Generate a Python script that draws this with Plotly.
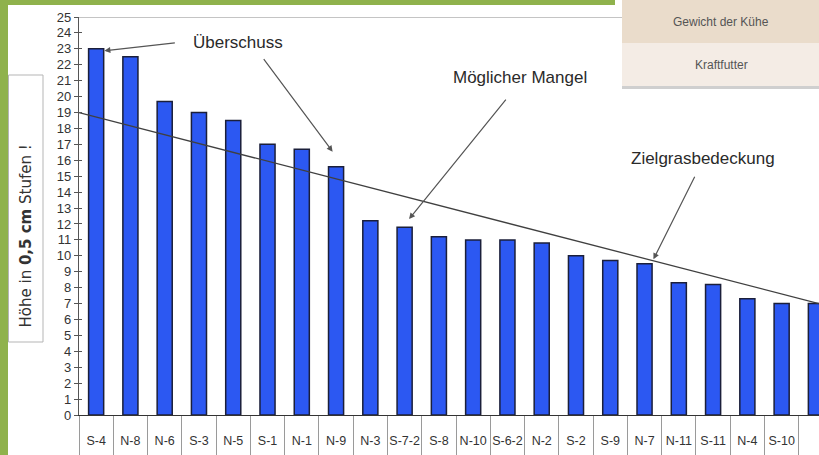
import plotly.graph_objects as go

# Weideflächen (Koppeln) sortiert nach Grashöhe
koppeln = ["S-4", "N-8", "N-6", "S-3", "N-5", "S-1", "N-1", "N-9", "N-3", "S-7-2", "S-8",
           "N-10", "S-6-2", "N-2", "S-2", "S-9", "N-7", "N-11", "S-11", "N-4", "S-10", "S-6"]
grashoehe = [23.0, 22.5, 19.7, 19.0, 18.5, 17.0, 16.7, 15.6, 12.2, 11.8, 11.2,
             11.0, 11.0, 10.8, 10.0, 9.7, 9.5, 8.3, 8.2, 7.3, 7.0, 7.0]

# Zielgrasbedeckung: Gerade vom linken zum rechten Rand
ziel_x = [-0.5, 21.09]
ziel_y = [19.0, 7.0]

y_ticks = list(range(0, 26))

W, H = 819, 455
ML, MR, MT, MB = 79, 0, 17, 40
PW, PH = W - ML - MR, H - MT - MB


def px(x):
    return (x - ML) / PW


def py(y):
    return (H - MB - y) / PH


idx = list(range(len(koppeln)))

fig = go.Figure()
fig.add_trace(go.Bar(
    x=idx, y=grashoehe, width=0.44,
    marker=dict(color="#2c58f2", line=dict(color="#1b1f3a", width=1.5)),
    hoverinfo="x+y", showlegend=False,
))
fig.add_trace(go.Scatter(
    x=ziel_x, y=ziel_y, mode="lines",
    line=dict(color="#404040", width=1.3), showlegend=False, cliponaxis=False,
))
# unsichtbare Spur, damit die zweite y-Achse (innere Striche) gezeichnet wird
fig.add_trace(go.Scatter(
    x=[0], y=[0], yaxis="y2", mode="markers", marker=dict(opacity=0),
    hoverinfo="skip", showlegend=False,
))

GREEN = "#8fb24c"
shapes = [
    # oberer Rahmen der Zeichenfläche
    dict(type="line", xref="paper", yref="y", x0=0, x1=1, y0=25, y1=25,
         line=dict(color="#8a8a8a", width=1.2)),
    # grüner Folienrahmen
    dict(type="rect", xref="paper", yref="paper", x0=px(0), x1=px(8), y0=py(H), y1=py(0),
         fillcolor=GREEN, line=dict(width=0), layer="above"),
    dict(type="rect", xref="paper", yref="paper", x0=px(0), x1=px(615), y0=py(5), y1=py(0),
         fillcolor=GREEN, line=dict(width=0), layer="above"),
    # Menü oben rechts
    dict(type="rect", xref="paper", yref="paper", x0=px(622), x1=px(W), y0=py(89), y1=py(86),
         fillcolor="#cfcfcf", line=dict(width=0), layer="above"),
    dict(type="rect", xref="paper", yref="paper", x0=px(622), x1=px(W), y0=py(43), y1=py(0),
         fillcolor="#eadccb", line=dict(width=0), layer="above"),
    dict(type="rect", xref="paper", yref="paper", x0=px(622), x1=px(W), y0=py(86), y1=py(43),
         fillcolor="#f4ece5", line=dict(width=0), layer="above"),
    # Kasten der Achsenbeschriftung
    dict(type="rect", xref="paper", yref="paper", x0=px(8.5), x1=px(43), y0=py(342), y1=py(75),
         fillcolor="white", line=dict(color="#b5b5b5", width=1), layer="above"),
]

ann_font = dict(family="Liberation Sans, Arial, sans-serif", size=17, color="#2a2a2a")
center = dict(xanchor="center", yanchor="middle")
arrow = dict(showarrow=True, arrowhead=2, arrowsize=1, arrowwidth=1.2, arrowcolor="#555555",
             text="", axref="pixel", ayref="pixel")
annotations = [
    dict(x=4.125, y=23.37, text="Überschuss", showarrow=False, font=ann_font, **center),
    dict(x=12.37, y=21.23, text="Möglicher Mangel", showarrow=False, font=ann_font, **center),
    dict(x=17.71, y=16.14, text="Zielgrasbedeckung", showarrow=False, font=ann_font, **center),
    dict(x=0.24, y=22.88, ax=72, ay=-8, **arrow),
    dict(x=6.90, y=16.54, ax=-70, ay=-94, **arrow),
    dict(x=9.13, y=12.31, ax=98, ay=-121, **arrow),
    dict(x=16.26, y=9.78, ax=42, ay=-84, **arrow),
    dict(xref="paper", yref="paper", x=px(721), y=py(22), text="Gewicht der Kühe",
         showarrow=False, font=dict(family="Liberation Sans, Arial", size=12, color="#555555"),
         **center),
    dict(xref="paper", yref="paper", x=px(721), y=py(65), text="Kraftfutter",
         showarrow=False, font=dict(family="Liberation Sans, Arial", size=12, color="#555555"),
         **center),
    dict(xref="paper", yref="paper", x=px(25.5), y=py(236), textangle=-90,
         text="Höhe in <b>0,5 cm</b> Stufen !", showarrow=False,
         font=dict(family="DejaVu Sans, Verdana, sans-serif", size=15, color="#333333"),
         **center),
]

fig.update_layout(
    width=W, height=H,
    margin=dict(l=ML, r=MR, t=MT, b=MB, pad=0),
    paper_bgcolor="white", plot_bgcolor="white",
    shapes=shapes, annotations=annotations,
    xaxis=dict(
        range=[-0.5, 21.09], tickmode="array", tickvals=idx, ticktext=koppeln,
        ticks="outside", ticklen=14, tickcolor="rgba(0,0,0,0)",
        tickfont=dict(family="Liberation Sans, Arial", size=12.5, color="#333333"),
        showline=True, linecolor="#333333", linewidth=1.2, showgrid=False, zeroline=False,
        minor=dict(tickmode="array", tickvals=[i - 0.5 for i in range(len(koppeln) + 1)],
                   ticks="outside", ticklen=40, tickcolor="#9a9a9a", tickwidth=1),
        fixedrange=True,
    ),
    yaxis=dict(
        range=[0, 25], tickmode="array", tickvals=y_ticks,
        ticks="outside", ticklen=4, tickcolor="#555555",
        tickfont=dict(family="Liberation Sans, Arial", size=13, color="#333333"),
        showline=True, linecolor="#555555", linewidth=1.2, showgrid=False, zeroline=False,
        fixedrange=True,
    ),
    yaxis2=dict(
        overlaying="y", side="left", range=[0, 25], tickmode="array", tickvals=y_ticks,
        ticks="inside", ticklen=3, tickcolor="#555555", showticklabels=False,
        showline=False, showgrid=False, zeroline=False, fixedrange=True,
    ),
    bargap=0.56,
)

fig.write_html("out.html")
